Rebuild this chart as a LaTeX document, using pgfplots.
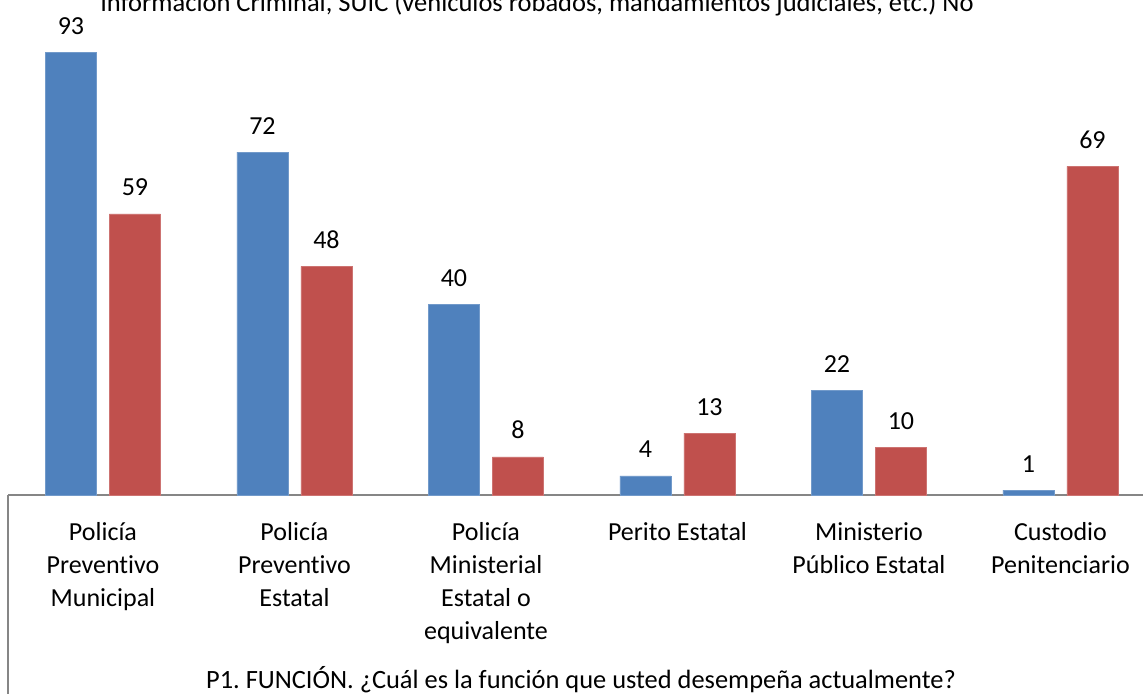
\documentclass[border=0pt]{standalone}
\usepackage{pgfplots}
\pgfplotsset{compat=1.18}
\usepackage{fontspec}
\setmainfont{Carlito}[Ligatures=NoCommon]
\definecolor{cblue}{HTML}{4F81BD}
\definecolor{cred}{HTML}{C0504D}
\definecolor{cgray}{HTML}{868686}
\frenchspacing
\begin{document}
\begin{tikzpicture}
\useasboundingbox (0pt,0pt) rectangle (1143pt,694pt);
\begin{axis}[
  at={(8pt,199pt)}, anchor=south west,
  scale only axis, width=1135pt, height=495pt,
  xmin=-0.496, xmax=5.431, ymin=0, ymax=103.93,
  ybar=13pt, bar width=51pt,
  axis y line=none,
  axis x line*=bottom,
  x axis line style={draw=cgray, line width=1.3pt, -},
  xtick={0,1,2,3,4,5},
  xticklabels={{Policía\\Preventivo\\Municipal},{Policía\\Preventivo\\Estatal},{Policía\\Ministerial\\Estatal o\\equivalente},{Perito Estatal},{Ministerio\\Público Estatal},{Custodio\\Penitenciario}},
  major tick length=0pt,
  xticklabel style={align=center, font=\fontsize{26}{33}\selectfont, anchor=north, inner sep=0pt, yshift=-27pt},
  clip=false,
  /pgf/number format/assume math mode=true,
  nodes near coords,
  every node near coord/.append style={font=\fontsize{26}{31}\selectfont, inner sep=0pt, yshift=18pt, black, anchor=base},
]
\addplot[fill=cblue, draw=cblue!80!white] coordinates {(0,93) (1,72) (2,40) (3,4) (4,22) (5,1)};
\addplot[fill=cred, draw=cred!80!white] coordinates {(0,59) (1,48) (2,8) (3,13) (4,10) (5,69)};
\end{axis}
\draw[cgray, line width=1.3pt] (8pt,199pt) -- (8pt,0pt);
\node[anchor=base, font=\fontsize{26.5}{31}\selectfont] at (537pt,682pt) {Información Criminal, SUIC (vehículos robados, mandamientos judiciales, etc.) No};
\node[anchor=base, font=\fontsize{26.4}{31}\selectfont] at (581pt,6pt) {P1. FUNCIÓN. ¿Cuál es la función que usted desempeña actualmente?};
\end{tikzpicture}
\end{document}
